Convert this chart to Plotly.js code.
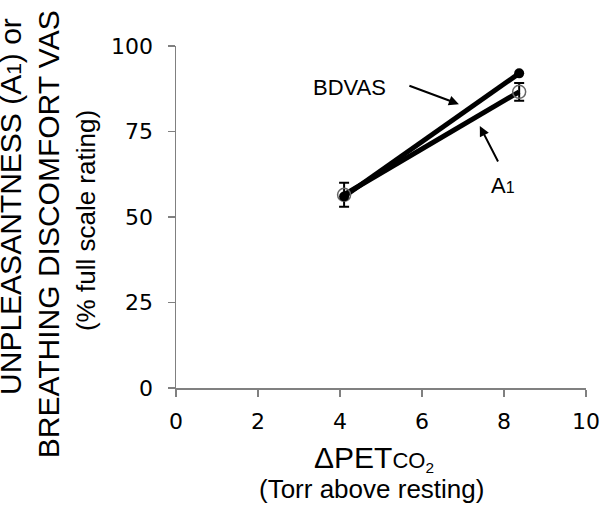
<!DOCTYPE html>
<html>
<head>
<meta charset="utf-8">
<script src="https://cdn.plot.ly/plotly-3.0.1.min.js"></script>
<style>html,body{margin:0;padding:0;background:#fff;}#chart{width:600px;height:510px;}</style>
</head>
<body>
<div id="chart"></div>
<script>
// Data
const deltaPetCO2 = [4.1, 8.37];
const bdvas = [56.0, 92.0];
const a1 = [56.5, 86.6];
const a1Err = [3.5, 2.6];
const xTicks = [0, 2, 4, 6, 8, 10];
const yTicks = [0, 25, 50, 75, 100];

const TXT = 'Arial, "Liberation Sans", sans-serif';

const traces = [
  {x: deltaPetCO2, y: a1, mode: 'lines', line: {color: '#000', width: 5}, showlegend: false, hoverinfo: 'skip'},
  {x: deltaPetCO2, y: bdvas, mode: 'lines', line: {color: '#000', width: 5}, showlegend: false, hoverinfo: 'skip'},
  {x: deltaPetCO2, y: a1, mode: 'markers',
   marker: {symbol: 'circle-open', size: 13, color: '#666', line: {width: 1.5, color: '#666'}},
   error_y: {type: 'data', array: a1Err, visible: true, color: '#000', thickness: 2, width: 5},
   showlegend: false, hoverinfo: 'skip'},
  {x: deltaPetCO2, y: bdvas, mode: 'markers',
   marker: {symbol: 'circle', size: 10, color: '#000'}, showlegend: false, hoverinfo: 'skip'}
];

const layout = {
  width: 600, height: 510,
  margin: {l: 176, r: 14, t: 46, b: 122},
  paper_bgcolor: '#fff', plot_bgcolor: '#fff',
  showlegend: false,
  xaxis: {
    range: [0, 10], tickvals: xTicks, ticktext: xTicks.map(String),
    showgrid: false, zeroline: false, showline: true, linecolor: '#808080', linewidth: 1.5,
    ticks: 'outside', ticklen: 7, tickcolor: '#808080', tickwidth: 1.5, ticklabelstandoff: 6,
    tickfont: {family: '"DejaVu Sans", Verdana, sans-serif', size: 22, color: '#000'}
  },
  yaxis: {
    range: [0, 100], tickvals: yTicks, ticktext: yTicks.map(String),
    showgrid: false, zeroline: false, showline: true, linecolor: '#808080', linewidth: 1.5,
    ticks: 'outside', ticklen: 7, tickcolor: '#808080', tickwidth: 1.5, ticklabelstandoff: 10,
    tickfont: {family: '"DejaVu Sans", Verdana, sans-serif', size: 22, color: '#000'}
  },
  annotations: [
    {xref: 'paper', yref: 'paper', x: -0.402, y: 0.53, xanchor: 'center', yanchor: 'middle', textangle: -90, showarrow: false,
     text: 'UNPLEASANTNESS (A<span style="font-size:21px">1</span>) or', font: {family: TXT, size: 30, color: '#000'}},
    {xref: 'paper', yref: 'paper', x: -0.312, y: 0.45, xanchor: 'center', yanchor: 'middle', textangle: -90, showarrow: false,
     text: 'BREATHING DISCOMFORT VAS', font: {family: TXT, size: 30, color: '#000'}},
    {xref: 'paper', yref: 'paper', x: -0.218, y: 0.49, xanchor: 'center', yanchor: 'middle', textangle: -90, showarrow: false,
     text: '(% full scale rating)', font: {family: TXT, size: 26, color: '#000'}},
    {xref: 'paper', yref: 'paper', x: 0.483, y: -0.207, xanchor: 'center', yanchor: 'middle', showarrow: false,
     text: 'ΔPET<span style="font-size:22px">CO<sub>2</sub></span>', font: {family: TXT, size: 30, color: '#000'}},
    {xref: 'paper', yref: 'paper', x: 0.478, y: -0.295, xanchor: 'center', yanchor: 'middle', showarrow: false,
     text: '(Torr above resting)', font: {family: TXT, size: 26, color: '#000'}},
    {xref: 'x', yref: 'y', x: 4.24, y: 88.0, showarrow: false, text: 'BDVAS', font: {family: TXT, size: 22, color: '#000'}},
    {xref: 'x', yref: 'y', x: 6.90, y: 83.0, ax: -51, ay: -19, showarrow: true, arrowhead: 2, arrowsize: 1, arrowwidth: 2, arrowcolor: '#000', text: ''},
    {xref: 'x', yref: 'y', x: 7.98, y: 59.1, showarrow: false, text: 'A<span style="font-size:16px">1</span>', font: {family: TXT, size: 22, color: '#000'}},
    {xref: 'x', yref: 'y', x: 7.41, y: 76.6, ax: 19, ay: 37, showarrow: true, arrowhead: 2, arrowsize: 1, arrowwidth: 2, arrowcolor: '#000', text: ''}
  ]
};

Plotly.newPlot('chart', traces, layout, {displayModeBar: false, staticPlot: true});
</script>
</body>
</html>
